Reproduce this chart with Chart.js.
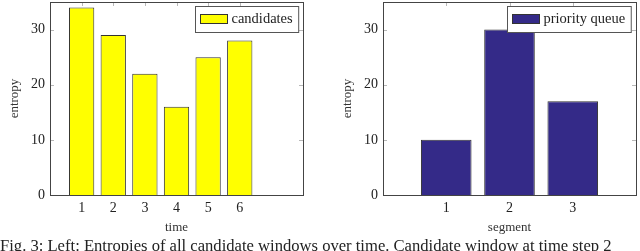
<!DOCTYPE html>
<html>
<head>
<meta charset="utf-8">
<script src="https://cdn.jsdelivr.net/npm/chart.js@4.4.0/dist/chart.umd.min.js"></script>
<style>
  html, body { margin: 0; padding: 0; background: #fff; overflow: hidden; }
  body { width: 640px; height: 251px; position: relative; }
  .box { position: absolute; top: 0; width: 320px; height: 240px; }
  #caption {
    position: absolute; left: 0; top: 237px; white-space: nowrap;
    font: 16.6px "Liberation Serif", serif; color: #222; line-height: 17px;
  }
</style>
</head>
<body>
<div class="box" style="left:0"><canvas id="chartLeft"></canvas></div>
<div class="box" style="left:320px"><canvas id="chartRight"></canvas></div>
<div id="caption">Fig. 3: Left: Entropies of all candidate windows over time. Candidate window at time step 2</div>
<script>
// left plot: entropy of candidates at each time step
const times = [1, 2, 3, 4, 5, 6];
const candidateEntropy = [34, 29, 22, 16, 25, 28];

// right plot: entropy of priority queue per segment
const segments = [1, 2, 3];
const queueEntropy = [10, 30, 17];

const yTicks = [0, 10, 20, 30];

const serif = '"Liberation Serif", "Times New Roman", serif';

// frame + inner tick marks like pgfplots
const framePlugin = {
    id: 'frame',
    beforeDatasetsDraw(chart) {
        const ctx = chart.ctx;
        const a = chart.chartArea;
        const x = chart.scales.x, y = chart.scales.y;
        ctx.save();
        ctx.strokeStyle = '#b8b8b8';
        ctx.lineWidth = 1;
        ctx.beginPath();
        y.ticks.forEach(t => {
            const py = Math.round(y.getPixelForValue(t.value)) + 0.5;
            ctx.moveTo(a.left, py); ctx.lineTo(a.left + 4, py);
            ctx.moveTo(a.right, py); ctx.lineTo(a.right - 4, py);
        });
        x.ticks.forEach(t => {
            const px = Math.round(x.getPixelForValue(t.value)) + 0.5;
            ctx.moveTo(px, a.top); ctx.lineTo(px, a.top + 4);
            ctx.moveTo(px, a.bottom); ctx.lineTo(px, a.bottom - 4);
        });
        ctx.stroke();
        ctx.restore();
    },
    afterDatasetsDraw(chart) {
        const ctx = chart.ctx;
        const a = chart.chartArea;
        ctx.save();
        ctx.strokeStyle = '#444';
        ctx.lineWidth = 1;
        ctx.strokeRect(Math.round(a.left) + 0.5, Math.round(a.top) + 0.5,
            Math.round(a.right - a.left), Math.round(a.bottom - a.top));

        // legend box in the top right corner
        const ds = chart.data.datasets[0];
        ctx.font = '14.5px ' + serif;
        const tw = ctx.measureText(ds.label).width;
        const w = 5 + 27 + 4 + tw + 6, h = 26;
        const lx = Math.round(a.right - 5 - w) + 0.5, ly = Math.round(a.top + 4) + 0.5;
        ctx.fillStyle = '#fff';
        ctx.fillRect(lx, ly, w, h);
        ctx.strokeStyle = '#555';
        ctx.strokeRect(lx, ly, w, h);
        ctx.fillStyle = ds.backgroundColor;
        ctx.fillRect(lx + 5, ly + 8, 27, 9);
        ctx.strokeStyle = '#333';
        ctx.strokeRect(lx + 5, ly + 8, 27, 9);
        ctx.fillStyle = '#222';
        ctx.textBaseline = 'middle';
        ctx.fillText(ds.label, lx + 36, ly + h / 2);
        ctx.restore();
    }
};

function makeChart(id, label, xs, ys, color, xMax, xTitle, pad) {
    const ctx = document.getElementById(id).getContext('2d');
    return new Chart(ctx, {
        type: 'bar',
        data: {
            datasets: [{
                label: label,
                data: xs.map((v, i) => ({ x: v, y: ys[i] })),
                backgroundColor: color,
                borderColor: '#333',
                borderWidth: 1,
                barPercentage: 0.8,
                categoryPercentage: 1.0
            }]
        },
        options: {
            responsive: true,
            maintainAspectRatio: false,
            animation: false,
            layout: { padding: pad },
            plugins: { legend: { display: false }, tooltip: { enabled: false } },
            scales: {
                x: {
                    type: 'linear',
                    offset: false,
                    min: 0,
                    max: xMax,
                    afterBuildTicks: s => { s.ticks = xs.map(v => ({ value: v })); },
                    afterFit: s => { s.height = 45; s.paddingLeft = 0; s.paddingRight = 0; },
                    grid: { display: false, drawTicks: false, offset: false },
                    border: { display: false },
                    ticks: { color: '#222', padding: 5, font: { family: serif, size: 14 } },
                    title: { display: true, text: xTitle, color: '#333', padding: { top: 0, bottom: 5 },
                        font: { family: serif, size: 13 } }
                },
                y: {
                    min: 0,
                    max: 35,
                    afterBuildTicks: s => { s.ticks = yTicks.map(v => ({ value: v })); },
                    afterFit: s => { s.width = 48; s.paddingTop = 0; s.paddingBottom = 0; },
                    grid: { display: false, drawTicks: false },
                    border: { display: false },
                    ticks: { color: '#222', padding: 5, font: { family: serif, size: 14 } },
                    title: { display: true, text: 'entropy', color: '#333', padding: { top: 5, bottom: 0 },
                        font: { family: serif, size: 13 } }
                }
            }
        },
        plugins: [framePlugin]
    });
}

makeChart('chartLeft', 'candidates', times, candidateEntropy, '#ffff00', 8, 'time',
    { top: 2, right: 17, left: 2, bottom: 0 });
makeChart('chartRight', 'priority queue', segments, queueEntropy, '#342a88', 4, 'segment',
    { top: 2, right: 4, left: 15, bottom: 0 });
</script>
</body>
</html>
